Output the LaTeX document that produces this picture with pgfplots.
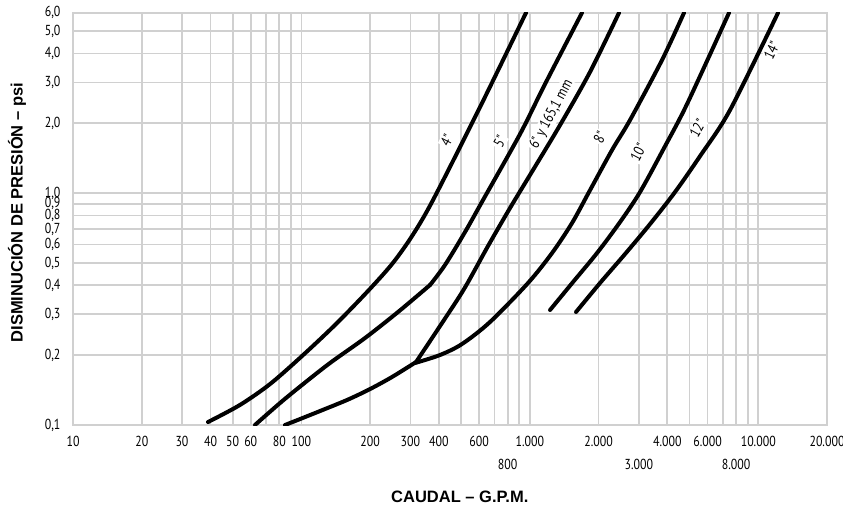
\documentclass[border=0pt]{standalone}
\usepackage{fontspec}
\setmainfont{Liberation Sans}
\newfontfamily\tickfont[FakeStretch=0.82]{PT Sans}
\usepackage{pgfplots}
\pgfplotsset{compat=1.18}
\definecolor{gridgray}{RGB}{208,208,208}

\begin{document}
\begin{tikzpicture}
\begin{axis}[
    scale only axis,
    width=754pt, height=412.3pt,
    xmode=log, ymode=log,
    xmin=10, xmax=20000,
    ymin=0.1, ymax=6,
    axis line style={draw=gridgray, line width=1.8pt},
    grid=major,
    major grid style={draw=gridgray, line width=1.8pt},
    major tick length=0pt, minor tick length=0pt,
    xtick={10,20,30,40,50,60,70,80,90,100,200,300,400,500,600,700,800,900,1000,2000,3000,4000,5000,6000,7000,8000,9000,10000,20000},
    xticklabels={10,20,30,40,50,60,{},80,{},100,200,300,400,{},600,{},{},{},1.000,2.000,{},4.000,{},6.000,{},{},{},10.000,20.000},
    extra x ticks={800,3000,8000},
    extra x tick labels={800,3.000,8.000},
    extra x tick style={xticklabel style={yshift=-23pt}},
    ytick={0.1,0.2,0.3,0.4,0.5,0.6,0.7,0.8,0.9,1,2,3,4,5,6},
    yticklabels={{0,1},{0,2},{0,3},{0,4},{0,5},{0,6},{0,7},{0,8},{0,9},{1,0},{2,0},{3,0},{4,0},{5,0},{6,0}},
    tick label style={font=\tickfont\fontsize{14.5}{15}\selectfont},
    xticklabel style={yshift=-8pt},
    yticklabel style={xshift=-9pt},
    xlabel={CAUDAL – G.P.M.},
    ylabel={DISMINUCIÓN DE PRESIÓN – psi},
    label style={font=\bfseries\fontsize{16.5}{18}\selectfont},
    xlabel style={at={(axis description cs:0.513,0)}, anchor=center, yshift=-72pt},
    ylabel style={at={(axis description cs:0,0.515)}, anchor=center, yshift=56pt},
    curve/.style={black, line width=4pt, line cap=round, line join=round, smooth, tension=0.5, mark=none},
]
% 4"
\addplot[curve] coordinates {(39,0.103) (53.8,0.122) (72.9,0.1502) (100.6,0.1984) (140.3,0.2700) (193.8,0.3746) (249.3,0.4946) (305.0,0.6531) (376.9,0.9338) (605.4,2.351) (962.5,6.0)};
% 5"
\addplot[curve] coordinates {(62.6,0.1) (80.6,0.1244) (100.6,0.1488) (133.4,0.1851) (189.9,0.2372) (264.8,0.3071) (365.6,0.4015)};
\addplot[curve] coordinates {(365.6,0.4015) (425.2,0.4898) (520.4,0.6798) (623.8,0.9338) (906,1.798) (1165.5,2.954) (1692.5,6.0)};
% 6" y 165,1 mm
\addplot[curve] coordinates {(84.8,0.1) (114.7,0.1126) (158.4,0.1282) (199.7,0.1429) (249.3,0.1611) (317.6,0.1869)};
\addplot[curve] coordinates {(317.6,0.1869) (404.5,0.2673) (515.2,0.3859) (656.1,0.5914) (818.9,0.8625) (1032.8,1.2585) (1356,1.966) (1834,3.329) (2458,6.0)};
% 8"
\addplot[curve] coordinates {(314.4,0.1851) (404.5,0.2004) (505,0.2236) (669.4,0.2781) (982,0.4096) (1251,0.5517) (1530,0.7431) (1816,1.011) (2290,1.534) (2746,2.067) (3791,3.750) (4733,6.0)};
% 10"
\addplot[curve] coordinates {(1226,0.3133) (1546,0.4137) (1969,0.5517) (2483,0.7506) (3037,1.011) (3869,1.565) (4879,2.423) (7451,6.0)};
% 12" / 14"
\addplot[curve] coordinates {(1593,0.3071) (2029,0.4096) (2611,0.5462) (3360,0.7357) (4322,1.011) (5563,1.445) (7524,2.282) (12212,6.0)};

\begin{scope}[every node/.style={fill=white, inner sep=1.2pt, font=\tickfont\fontsize{15}{15}\selectfont}]
\node[rotate=63] at (axis cs:432.7,1.694) {4"};
\node[rotate=63] at (axis cs:740.5,1.666) {5"};
\node[rotate=62] at (axis cs:1245,2.18) {6" y 165,1 mm};
\node[rotate=63] at (axis cs:2029,1.745) {8"};
\node[rotate=62] at (axis cs:2985,1.496) {10"};
\node[rotate=60] at (axis cs:5423,1.903) {12"};
\node[rotate=64] at (axis cs:11460,4.14) {14"};
\end{scope}
\end{axis}
\pgfresetboundingbox
\path[use as bounding box] ([xshift=-73pt,yshift=-88pt]current axis.south west) rectangle ([xshift=16pt,yshift=12.7pt]current axis.north east);
\end{tikzpicture}
\end{document}
